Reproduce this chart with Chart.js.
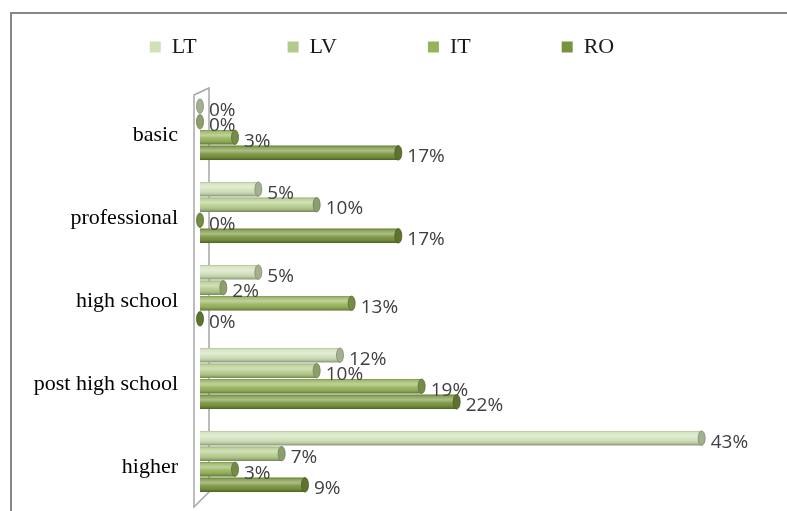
<!DOCTYPE html>
<html>
<head>
<meta charset="utf-8">
<script src="https://cdn.jsdelivr.net/npm/chart.js@4"></script>
<style>
  body { margin: 0; background: #fff; }
  #wrap { position: relative; width: 787px; height: 511px; }
</style>
</head>
<body>
<div id="wrap"><canvas id="chart"></canvas></div>
<script>
// data
const categories = ['basic', 'professional', 'high school', 'post high school', 'higher'];
const seriesNames = ['LT', 'LV', 'IT', 'RO'];
const ltValues = [0, 5, 5, 12, 43];
const lvValues = [0, 10, 2, 10, 7];
const itValues = [3, 0, 13, 19, 3];
const roValues = [17, 17, 0, 22, 9];
const seriesColors = ['#d0e0b8', '#b3cb8a', '#95b35a', '#77933c'];

const serif = '"Liberation Serif", "Times New Roman", serif';

// darken a hex colour by a factor (0..1)
function shade(hex, f) {
  const n = parseInt(hex.slice(1), 16);
  const r = Math.round(((n >> 16) & 255) * f);
  const g = Math.round(((n >> 8) & 255) * f);
  const b = Math.round((n & 255) * f);
  return `rgb(${r},${g},${b})`;
}

// outer frame + the thin 3D side wall behind the bars
const framePlugin = {
  id: 'frame',
  beforeDraw(chart) {
    const ctx = chart.ctx;
    ctx.save();
    ctx.strokeStyle = '#878787';
    ctx.lineWidth = 2;
    ctx.beginPath();
    ctx.moveTo(11, chart.height + 2);
    ctx.lineTo(11, 13);
    ctx.lineTo(chart.width + 2, 13);
    ctx.stroke();
    ctx.restore();
  },
  beforeDatasetsDraw(chart) {
    const { ctx, chartArea: ca } = chart;
    ctx.save();
    ctx.strokeStyle = '#a6a6a6';
    ctx.lineWidth = 1.5;
    ctx.beginPath();
    ctx.moveTo(ca.left - 6, ca.top + 7);
    ctx.lineTo(ca.left + 9, ca.top);
    ctx.lineTo(ca.left + 9, ca.bottom - 11);
    ctx.lineTo(ca.left - 6, ca.bottom + 4);
    ctx.closePath();
    ctx.stroke();
    ctx.restore();
  }
};

// cylinder shading, end caps and value labels
const cylinderPlugin = {
  id: 'cylinder',
  afterDatasetsDraw(chart) {
    const ctx = chart.ctx;
    chart.data.datasets.forEach((ds, di) => {
      const meta = chart.getDatasetMeta(di);
      if (meta.hidden) return;
      meta.data.forEach((el, i) => {
        const { x, y, base, height } = el.getProps(['x', 'y', 'base', 'height'], true);
        const left = Math.min(x, base);
        const w = Math.abs(x - base);
        const top = y - height / 2;
        ctx.save();
        const g = ctx.createLinearGradient(0, top, 0, top + height);
        g.addColorStop(0, 'rgba(0,0,0,0.15)');
        g.addColorStop(0.12, 'rgba(255,255,255,0.15)');
        g.addColorStop(0.35, 'rgba(255,255,255,0.4)');
        g.addColorStop(0.6, 'rgba(255,255,255,0.05)');
        g.addColorStop(0.85, 'rgba(0,0,0,0.12)');
        g.addColorStop(1, 'rgba(0,0,0,0.35)');
        ctx.fillStyle = g;
        ctx.fillRect(left, top, w, height);
        // end cap
        ctx.beginPath();
        ctx.ellipse(x, y, 3.5, height / 2, 0, 0, Math.PI * 2);
        ctx.fillStyle = shade(ds.backgroundColor, 0.78);
        ctx.fill();
        ctx.strokeStyle = shade(ds.backgroundColor, 0.62);
        ctx.lineWidth = 0.8;
        ctx.stroke();
        // label
        ctx.fillStyle = '#404040';
        ctx.font = '19px "Open Sans", "DejaVu Sans", sans-serif';
        ctx.textAlign = 'left';
        ctx.textBaseline = 'middle';
        ctx.fillText(ds.data[i] + '%', x + 9, y + 4);
        ctx.restore();
      });
    });
  }
};

const seriesValues = [ltValues, lvValues, itValues, roValues];

new Chart(document.getElementById('chart'), {
  type: 'bar',
  data: {
    labels: categories,
    datasets: seriesNames.map((name, k) => ({
      label: name,
      data: seriesValues[k],
      backgroundColor: seriesColors[k],
      borderWidth: 0,
      categoryPercentage: 0.75,
      barPercentage: 0.93
    }))
  },
  options: {
    indexAxis: 'y',
    responsive: true,
    maintainAspectRatio: false,
    animation: false,
    layout: { padding: { top: -55, left: 11, right: 34, bottom: 8 } },
    plugins: {
      tooltip: { enabled: false },
      legend: {
        position: 'top',
        labels: {
          boxWidth: 11,
          boxHeight: 11,
          padding: 91,
          color: '#1a1a1a',
          font: { family: serif, size: 22 }
        }
      }
    },
    scales: {
      x: {
        position: 'top',
        min: 0,
        max: 47.4,
        grid: { display: false, drawTicks: false },
        border: { display: false },
        ticks: { display: false },
        afterFit(scale) { scale.height = 20; }
      },
      y: {
        grid: { display: false, drawTicks: false },
        border: { display: false },
        ticks: {
          color: '#000',
          padding: 22,
          labelOffset: 6,
          font: { family: serif, size: 22 }
        },
        afterFit(scale) {
          scale.width = 189;
          scale.paddingTop = 0;
          scale.paddingBottom = 0;
        }
      }
    }
  },
  plugins: [framePlugin, cylinderPlugin]
});
</script>
</body>
</html>
